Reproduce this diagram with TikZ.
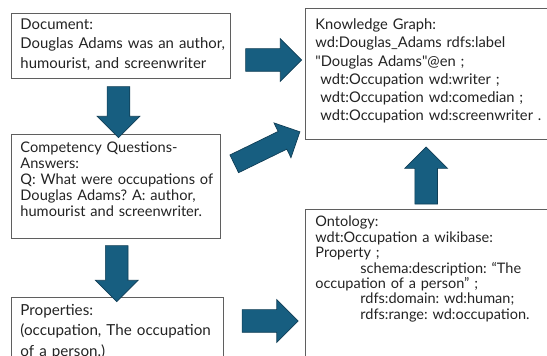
\documentclass[tikz,border=0pt]{standalone}
\usepackage{fontspec}
\setmainfont{Lato}
\frenchspacing
\usetikzlibrary{shapes.arrows,calc}

\definecolor{arrowfill}{RGB}{23,94,128}
\definecolor{arrowedge}{RGB}{16,62,86}
\definecolor{boxedge}{RGB}{95,95,95}
\definecolor{inktext}{RGB}{35,35,35}

\begin{document}
\begin{tikzpicture}[
  x=1pt, y=-1pt,
  card/.style={%
    draw=boxedge, line width=0.9pt, anchor=north west,
    align=left, inner xsep=0pt, inner ysep=0pt, text=inktext,
  },
  blockarrow/.style={%
    single arrow, draw=arrowedge, fill=arrowfill, line width=0.7pt,
    single arrow tip angle=90, inner xsep=0pt,
    inner ysep=11pt, single arrow head extend=10pt,
    minimum width=0pt, minimum height=#1,
  },
]
  \useasboundingbox (0,0) rectangle (547,356);
  \clip (0,0) rectangle (547,356);

  % left column
  \node[card, text width=219pt, text height=16pt, text depth=49pt,
        font=\fontsize{14.9}{19.5}\selectfont] (doc) at (11,13)
    {\leftskip=9pt Document:\\Douglas Adams was an author,\\humourist, and screenwriter\par};
  \node[card, text width=209pt, text height=18pt, text depth=86pt,
        font=\fontsize{14.6}{16}\selectfont] (cq) at (11,134)
    {\leftskip=9pt Competency Questions-\\Answers:\\Q: What were occupations of\\Douglas Adams? A: author,\\humourist and screenwriter.\par};
  \node[card, text width=212pt, text height=18pt, text depth=67pt,
        font=\fontsize{15.2}{20.5}\selectfont] (props) at (11,297)
    {\leftskip=9pt Properties:\\(occupation, The occupation\\of a person.)\par};

  % right column
  \node[card, text width=241.5pt, text height=21pt, text depth=110pt,
        font=\fontsize{14.7}{18.3}\selectfont] (kg) at (305,8)
    {\leftskip=10pt Knowledge Graph:\\wd:Douglas\_Adams rdfs:label\\\textquotedbl Douglas Adams\textquotedbl @en ;\\
     \hspace*{5pt}wdt:Occupation wd:writer ;\\
     \hspace*{5pt}wdt:Occupation wd:comedian ;\\
     \hspace*{5pt}wdt:Occupation wd:screenwriter .\par};
  \node[card, text width=241.5pt, text height=18pt, text depth=168pt,
        font=\fontsize{14.5}{15.4}\selectfont] (onto) at (305,208.5)
    {\leftskip=10pt Ontology:\\wdt:Occupation a wikibase:\\Property ;\\
     \hspace*{45pt}schema:description: “The\\occupation of a person” ;\\
     \hspace*{45pt}rdfs:domain: wd:human;\\
     \hspace*{45pt}rdfs:range: wd:occupation.\par};

  % block arrows
  \node[blockarrow=51pt, rotate=-90] (doc2cq) at ($(doc.south)!0.5!(cq.north)$) {};
  \node[blockarrow=56pt, rotate=-90] (cq2props) at ($(cq.south)!0.5!(props.north)$) {};
  \node[blockarrow=56pt] (doc2kg) at ($(doc.east)!0.5!(kg.west)$) {};
  \node[blockarrow=56pt] (props2onto) at ($(props.east)!0.5!(onto.west)$) {};
  \node[blockarrow=57pt, rotate=90, shift={(-7,0)}] (onto2kg) at ($(kg.south)!0.5!(onto.north)$) {};
  \node[blockarrow=73pt, rotate=26, inner ysep=9.5pt, single arrow head extend=9.5pt,
        shift={(5.5,-12)}] (cq2kg) at ($(cq.east)!0.5!(kg.south west)$) {};
\end{tikzpicture}
\end{document}
